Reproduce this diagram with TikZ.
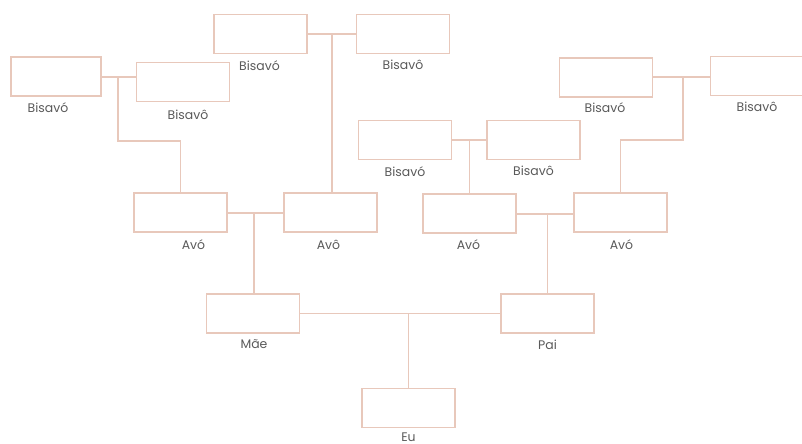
\documentclass[tikz,border=0pt]{standalone}
\usepackage{fontspec}
\setmainfont{Poppins}
\begin{document}
\begin{tikzpicture}[x=1bp,y=-1bp,
  box/.style={draw=linec, line width=1.3bp, minimum width=93bp, minimum height=39bp, inner sep=0pt, fill=white},
  lbl/.style={font=\fontsize{12.5}{14}\selectfont, text=txtc, anchor=north, inner sep=0pt},
  conn/.style={draw=linec, line width=1.3bp}]
\definecolor{linec}{HTML}{E8C8BB}
\definecolor{txtc}{HTML}{5A5A5A}
\useasboundingbox (0,0) rectangle (802,444);
\fill[white] (0,0) rectangle (802,444);
% boxes
\node[box, minimum width=90bp] (b1) at (56,76.5) {};
\node[box] (b2) at (183,82) {};
\node[box] (b3) at (260.5,34) {};
\node[box] (b4) at (403,34) {};
\node[box] (b5) at (405,140) {};
\node[box] (b6) at (533.5,140) {};
\node[box] (b7) at (606,77.5) {};
\node[box] (b8) at (757,76) {};
\node[box] (a1) at (180.5,212.5) {};
\node[box] (a2) at (330.5,212.5) {};
\node[box] (a3) at (469.5,213.5) {};
\node[box] (a4) at (620.5,212.5) {};
\node[box] (m) at (253,313.5) {};
\node[box] (p) at (547.5,313.5) {};
\node[box] (e) at (408.5,408) {};
% labels
\node[lbl] (lb1) at ([xshift=-8bp,yshift=-6bp]b1.south) {Bisavó};
\node[lbl] (lb2) at ([xshift=5bp,yshift=-8bp]b2.south) {Bisavô};
\node[lbl] (lb3) at ([xshift=-1bp,yshift=-6bp]b3.south) {Bisavó};
\node[lbl] (lb4) at ([yshift=-6bp]b4.south) {Bisavô};
\node[lbl] (lb5) at ([yshift=-6bp]b5.south) {Bisavó};
\node[lbl] (lb6) at ([yshift=-6bp]b6.south) {Bisavô};
\node[lbl] (lb7) at ([xshift=-1bp,yshift=-5bp]b7.south) {Bisavó};
\node[lbl] (lb8) at ([yshift=-6bp]b8.south) {Bisavô};
\node[lbl] (la1) at ([xshift=13bp,yshift=-7bp]a1.south) {Avó};
\node[lbl] (la2) at ([xshift=-2bp,yshift=-7bp]a2.south) {Avô};
\node[lbl] (la3) at ([xshift=-1bp,yshift=-6bp]a3.south) {Avó};
\node[lbl] (la4) at ([xshift=1bp,yshift=-7bp]a4.south) {Avó};
\node[lbl] (lm) at ([xshift=1bp,yshift=-6bp]m.south) {Mãe};
\node[lbl] (lp) at ([yshift=-6bp]p.south) {Pai};
\node[lbl] (le) at ([yshift=-4bp]e.south) {Eu};
% couples and descents
\coordinate (j1) at (118,77);
\coordinate (k1) at (118,141);
\draw[conn] (b1.east |- j1) -- (b2.west |- j1);
\draw[conn] (j1) -- (k1) -| (a1.north);

\coordinate (j2) at (332,34);
\draw[conn] (b3.east) -- (b4.west);
\draw[conn] (j2) -- (j2 |- a2.north);

\coordinate (j3) at (469.5,140);
\draw[conn] (b5.east) -- (b6.west);
\draw[conn] (j3) -- (a3.north);

\coordinate (j4) at (683,77);
\coordinate (k4) at (683,140);
\draw[conn] (b7.east |- j4) -- (b8.west |- j4);
\draw[conn] (j4) -- (k4) -| (a4.north);

\coordinate (j5) at (254,213);
\draw[conn] (a1.east |- j5) -- (a2.west |- j5);
\draw[conn] (j5) -- (j5 |- m.north);

\coordinate (j6) at (547.5,214);
\draw[conn] (a3.east |- j6) -- (a4.west |- j6);
\draw[conn] (j6) -- (p.north);

\coordinate (j7) at (408.5,313.5);
\draw[conn] (m.east) -- (p.west);
\draw[conn] (j7) -- (e.north);
\end{tikzpicture}
\end{document}
